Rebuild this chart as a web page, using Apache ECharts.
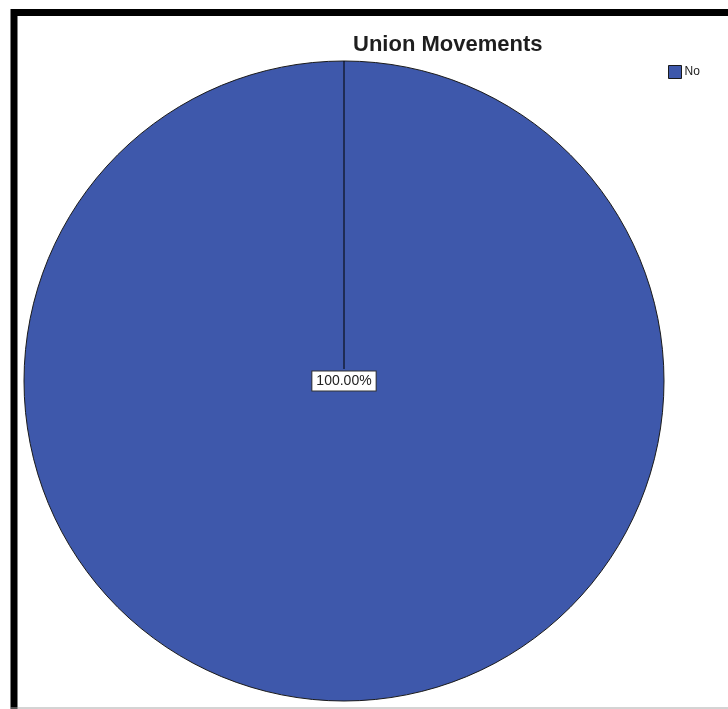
<!DOCTYPE html>
<html>
<head>
<meta charset="utf-8">
<script src="https://cdn.jsdelivr.net/npm/echarts@6/dist/echarts.min.js"></script>
<style>
  html, body { margin: 0; padding: 0; background: #ffffff; }
  #chart { width: 728px; height: 709px; }
</style>
</head>
<body>
<div id="chart"></div>
<script>
// Union Movements: share of responses per category
const categories = ['No'];
const percents = [100];
const sliceColors = ['#3e58ab'];

const chart = echarts.init(document.getElementById('chart'), null, { renderer: 'canvas' });

const pieData = categories.map((name, i) => ({
  name: name,
  value: percents[i],
  itemStyle: { color: sliceColors[i] }
}));

const option = {
  backgroundColor: '#ffffff',
  animation: false,
  title: {
    text: 'Union Movements',
    left: 353,
    top: 34,
    padding: 0,
    textStyle: {
      fontFamily: 'Liberation Sans, Arial, sans-serif',
      fontSize: 22,
      fontWeight: 'bold',
      color: '#1e1e1e'
    }
  },
  legend: {
    data: categories,
    orient: 'vertical',
    left: 668,
    top: 65,
    padding: 0,
    itemWidth: 13,
    itemHeight: 13,
    itemGap: 6,
    icon: 'rect',
    itemStyle: { borderColor: '#1a1a1a', borderWidth: 1 },
    textStyle: {
      fontFamily: 'Liberation Sans, Arial, sans-serif',
      fontSize: 12,
      color: '#222222',
      padding: [0, 0, 0, -2]
    }
  },
  // polar frame sharing the pie's centre: its angle gridline marks the slice boundary at 12 o'clock,
  // running from just above the centre label out to the rim
  polar: { center: [344, 381], radius: [12, 320] },
  angleAxis: {
    type: 'value',
    min: 0,
    max: 100,
    interval: 100,
    startAngle: 90,
    z: 5,
    axisLine: { show: false },
    axisTick: { show: false },
    axisLabel: { show: false },
    splitLine: { show: true, lineStyle: { color: '#000000', width: 1 } }
  },
  radiusAxis: {
    type: 'value',
    show: false,
    splitLine: { show: false }
  },
  graphic: [
    {
      type: 'rect',
      silent: true,
      z: 100,
      shape: { x: 14, y: 12.5, width: 900, height: 900 },
      style: { fill: 'none', stroke: '#000000', lineWidth: 7 }
    },
    {
      type: 'line',
      silent: true,
      z: 100,
      shape: { x1: 10, y1: 708, x2: 728, y2: 708 },
      style: { stroke: '#a8a8a8', lineWidth: 1 }
    }
  ],
  series: [
    {
      type: 'pie',
      center: [344, 381],
      radius: [0, 320],
      startAngle: 90,
      clockwise: true,
      z: 2,
      data: pieData,
      itemStyle: { borderColor: '#1a1a1a', borderWidth: 1 },
      emphasis: { disabled: true },
      label: {
        show: true,
        position: 'center',
        formatter: p => p.value.toFixed(2) + '%',
        fontFamily: 'Liberation Sans, Arial, sans-serif',
        fontSize: 14,
        color: '#222222',
        backgroundColor: '#ffffff',
        borderColor: '#333333',
        borderWidth: 1,
        padding: [3, 4, 2, 4]
      },
      labelLine: { show: false }
    }
  ]
};

chart.setOption(option);
</script>
</body>
</html>
